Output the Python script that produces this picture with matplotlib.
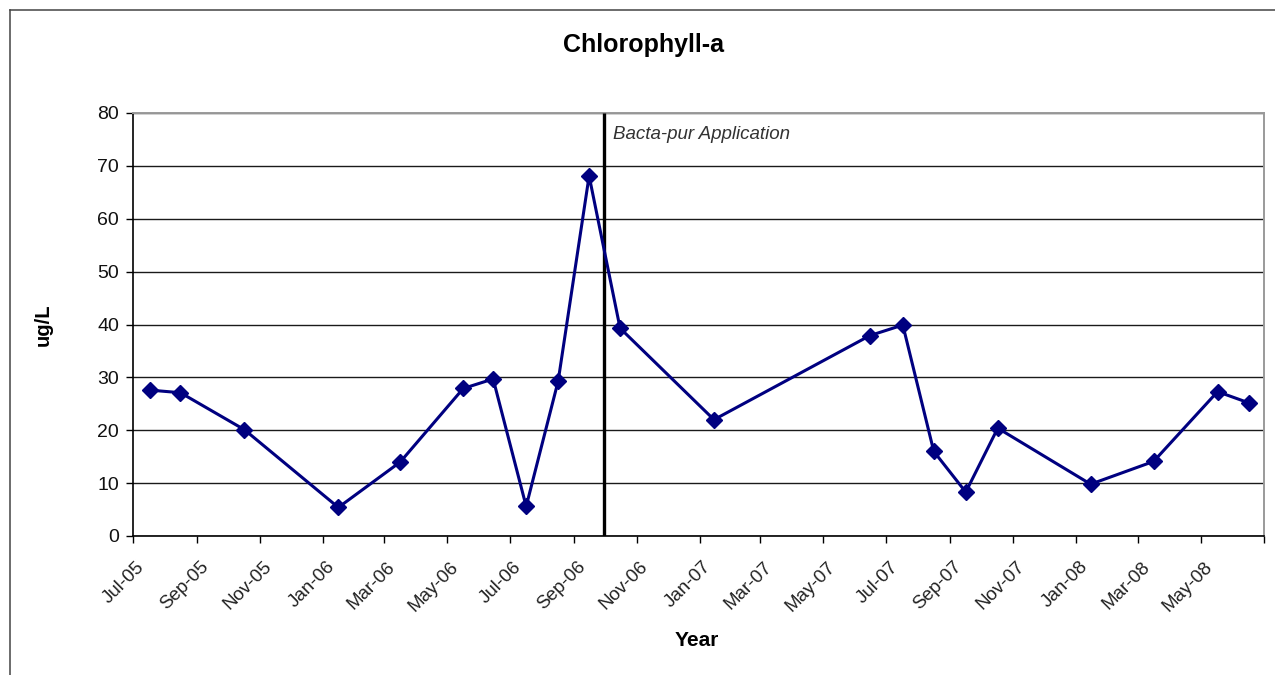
import datetime as dt
import matplotlib
matplotlib.use("Agg")
import matplotlib.pyplot as plt
import matplotlib.dates as mdates
from matplotlib.lines import Line2D
from matplotlib.transforms import ScaledTranslation

# Sampling dates and chlorophyll-a concentrations (ug/L)
sample_dates = [
    "2005-07-17", "2005-08-16", "2005-10-17", "2006-01-16", "2006-03-17",
    "2006-05-17", "2006-06-15", "2006-07-17", "2006-08-17", "2006-09-16",
    "2006-10-16", "2007-01-15", "2007-06-15", "2007-07-17", "2007-08-16",
    "2007-09-16", "2007-10-17", "2008-01-15", "2008-03-16", "2008-05-17",
    "2008-06-16",
]
chl_a = [
    27.6, 27.1, 20.1, 5.4, 14.0,
    27.9, 29.7, 5.6, 29.3, 68.1,
    39.3, 22.0, 37.9, 39.9, 16.0,
    8.3, 20.4, 9.8, 14.1, 27.3,
    25.2,
]

# Treatment event
application_date = "2006-09-30"
application_label = "Bacta-pur Application"

# Axis ticks
tick_dates = [
    "2005-07-01", "2005-09-01", "2005-11-01", "2006-01-01", "2006-03-01",
    "2006-05-01", "2006-07-01", "2006-09-01", "2006-11-01", "2007-01-01",
    "2007-03-01", "2007-05-01", "2007-07-01", "2007-09-01", "2007-11-01",
    "2008-01-01", "2008-03-01", "2008-05-01", "2008-07-01",
]
tick_labels = [
    "Jul-05", "Sep-05", "Nov-05", "Jan-06", "Mar-06", "May-06", "Jul-06",
    "Sep-06", "Nov-06", "Jan-07", "Mar-07", "May-07", "Jul-07", "Sep-07",
    "Nov-07", "Jan-08", "Mar-08", "May-08", "",
]
y_ticks = [0, 10, 20, 30, 40, 50, 60, 70, 80]


def to_date(s):
    return dt.datetime.strptime(s, "%Y-%m-%d")


plt.rcParams["font.family"] = ["Liberation Sans", "DejaVu Sans"]

W, H, DPI = 1275, 675, 100
fig = plt.figure(figsize=(W / DPI, H / DPI), dpi=DPI)
fig.patch.set_facecolor("white")

# Chart frame (top and left edges)
fig.add_artist(Line2D([9.5 / W, 9.5 / W], [0, 1 - 9.5 / H],
                      transform=fig.transFigure, color="#444444", lw=1.1))
fig.add_artist(Line2D([9.5 / W, 1], [1 - 9.5 / H, 1 - 9.5 / H],
                      transform=fig.transFigure, color="#444444", lw=1.1))

left, right, top, bottom = 133, 1264, 113, 536
ax = fig.add_axes([left / W, 1 - bottom / H, (right - left) / W, (bottom - top) / H])

x = [to_date(d) for d in sample_dates]
ax.plot(x, chl_a, color="#000080", lw=2.2, marker="D", ms=8.5,
        markerfacecolor="#000080", markeredgecolor="#000080", zorder=4)

app = to_date(application_date)
ax.plot([app, app], [y_ticks[0], y_ticks[-1]], color="black", lw=2.4,
        solid_capstyle="butt", zorder=3)
ax.annotate(application_label, xy=(app, 76.0), xytext=(7, 0),
            textcoords="offset points", ha="left", va="center",
            fontsize=13.5, style="italic", color="#333333")

ax.set_xlim(to_date(tick_dates[0]), to_date(tick_dates[-1]))
ax.set_ylim(y_ticks[0], y_ticks[-1])

ax.set_xticks([mdates.date2num(to_date(d)) for d in tick_dates])
ax.set_xticklabels(tick_labels)
ax.set_yticks(y_ticks)

ax.grid(axis="y", color="#1a1a1a", lw=1.0)
ax.set_axisbelow(True)

for s in ("left", "bottom"):
    ax.spines[s].set_color("black")
    ax.spines[s].set_linewidth(1.2)
for s in ("top", "right"):
    ax.spines[s].set_color("#9a9a9a")
    ax.spines[s].set_linewidth(1.4)

ax.tick_params(axis="both", direction="out", length=5, width=1.0, color="black")
ax.tick_params(axis="y", labelsize=14, pad=5, labelcolor="#111111")
ax.tick_params(axis="x", labelsize=13.5, pad=11, labelcolor="#222222")

offset = ScaledTranslation(3 / DPI, 0, fig.dpi_scale_trans)
for lab in ax.get_xticklabels():
    lab.set_rotation(45)
    lab.set_ha("right")
    lab.set_va("top")
    lab.set_rotation_mode("anchor")
    lab.set_transform(lab.get_transform() + offset)

ax.set_xlabel("Year", fontsize=15, fontweight="bold", va="center")
ax.xaxis.set_label_coords(0.4987, (bottom - 640) / (bottom - top))
ax.set_ylabel("ug/L", fontsize=14.5, fontweight="bold", va="center")
ax.yaxis.set_label_coords((43.5 - left) / (right - left), 0.5)

ax.set_title("Chlorophyll-a", fontsize=18, fontweight="bold", pad=0,
             x=(643 - left) / (right - left), y=(bottom - 45) / (bottom - top),
             va="center")

fig.savefig("out.png", dpi=DPI, facecolor="white")
